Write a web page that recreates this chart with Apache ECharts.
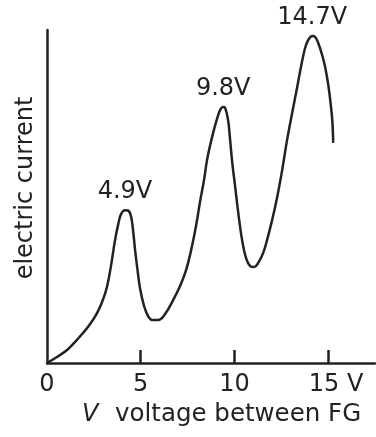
<!DOCTYPE html>
<html>
<head>
<meta charset="utf-8">
<script src="https://cdn.jsdelivr.net/npm/echarts@6/dist/echarts.min.js"></script>
<style>
  html, body { margin: 0; padding: 0; background: #fff; }
  #chart { width: 376px; height: 437px; }
</style>
</head>
<body>
<div id="chart"></div>
<script>
// curve (voltage in V, current in arbitrary units 0-100)
const voltage = [
  0, 0.53, 1.07, 1.49, 1.92, 2.30, 2.67, 2.94, 3.20, 3.42, 3.63, 3.79, 3.95, 4.16,
  4.32, 4.48, 4.59, 4.70, 4.81, 4.97, 5.18, 5.39, 5.61, 5.93, 6.30, 6.73, 7.10, 7.42,
  7.69, 7.96, 8.17, 8.38, 8.54, 8.81, 9.07, 9.24, 9.40,
  9.50, 9.66, 9.77, 9.88, 10.04, 10.20, 10.41, 10.62, 10.84, 11.05, 11.26, 11.53, 11.74,
  12.01, 12.28, 12.55, 12.81, 13.08, 13.35, 13.56, 13.77, 13.94, 14.15,
  14.31, 14.47, 14.68, 14.84, 15.00, 15.11, 15.22, 15.27,
];
const current = [
  0, 1.8, 3.9, 6.3, 9.0, 11.7, 15.0, 18.3, 22.8, 29.4, 36.9, 41.4, 44.7, 45.9,
  45.8, 44.1, 39.9, 33.9, 28.8, 22.2, 17.1, 14.1, 12.9, 12.9, 14.7, 18.9, 23.1, 27.9,
  33.9, 41.4, 48.6, 55.0, 61.0, 67.9, 73.3, 76.0, 76.9,
  76.7, 73.0, 67.0, 60.4, 52.9, 45.3, 36.9, 31.5, 29.1, 28.8, 30.0, 33.0, 36.9,
  42.9, 49.8, 58.0, 67.0, 75.1, 82.9, 89.2, 94.6, 97.0, 98.2,
  97.9, 96.1, 92.5, 88.9, 83.8, 79.0, 73.0, 66.1,
];
const peakIndex = [13, 36, 59];
const peakLabels = ["4.9V", "9.8V", "14.7V"];
const xTicks = [0, 5, 10, 15];
const xTickLabels = ["0", "5", "10", "15 V"];

const ink = "#222";
const font = "DejaVu Sans";

const data = voltage.map((v, i) => {
  const k = peakIndex.indexOf(i);
  if (k < 0) return [v, current[i]];
  return {
    value: [v, current[i]],
    label: { show: true, formatter: peakLabels[k] },
  };
});

const chart = echarts.init(document.getElementById("chart"));
chart.setOption({
  animation: false,
  backgroundColor: "#fff",
  grid: { left: 47, right: 1, top: 30, bottom: 74, outerBoundsMode: "none" },
  xAxis: {
    type: "value",
    min: 0,
    max: 17.5,
    interval: 5,
    axisLine: { lineStyle: { color: ink, width: 2.5 } },
    axisTick: {
      inside: true,
      length: 13,
      customValues: xTicks.slice(1),
      lineStyle: { color: ink, width: 2.5 },
    },
    splitLine: { show: false },
    axisLabel: {
      margin: 10,
      color: ink,
      fontFamily: font,
      fontSize: 24,
      customValues: xTicks,
      formatter: (v) => {
        const k = xTicks.indexOf(v);
        if (k < 0) return "";
        return k === xTicks.length - 1 ? "{last|" + xTickLabels[k] + "}" : xTickLabels[k];
      },
      rich: {
        last: { padding: [0, 0, 0, 16], color: ink, fontFamily: font, fontSize: 24 },
      },
    },
  },
  yAxis: {
    type: "value",
    min: 0,
    max: 100,
    axisLine: { show: true, lineStyle: { color: ink, width: 2.5 } },
    axisTick: { show: false },
    axisLabel: { show: false },
    splitLine: { show: false },
  },
  graphic: [
    {
      type: "text",
      x: 26,
      y: 188,
      rotation: Math.PI / 2,
      style: {
        text: "electric current",
        font: "24px " + font,
        fill: ink,
        textAlign: "center",
        textVerticalAlign: "middle",
      },
    },
    {
      type: "text",
      x: 82,
      y: 415,
      style: {
        text: "V",
        font: "italic 24px " + font,
        fill: ink,
        textAlign: "left",
        textVerticalAlign: "middle",
      },
    },
    {
      type: "text",
      x: 115,
      y: 415,
      style: {
        text: "voltage between FG",
        font: "24.5px " + font,
        fill: ink,
        textAlign: "left",
        textVerticalAlign: "middle",
      },
    },
  ],
  series: [
    {
      type: "line",
      smooth: 0.4,
      showSymbol: true,
      symbol: "circle",
      symbolSize: 0,
      lineStyle: { color: ink, width: 2.5 },
      itemStyle: { color: ink },
      label: {
        show: false,
        position: "top",
        distance: 6,
        color: ink,
        fontFamily: font,
        fontSize: 24,
      },
      data,
    },
  ],
});
</script>
</body>
</html>
